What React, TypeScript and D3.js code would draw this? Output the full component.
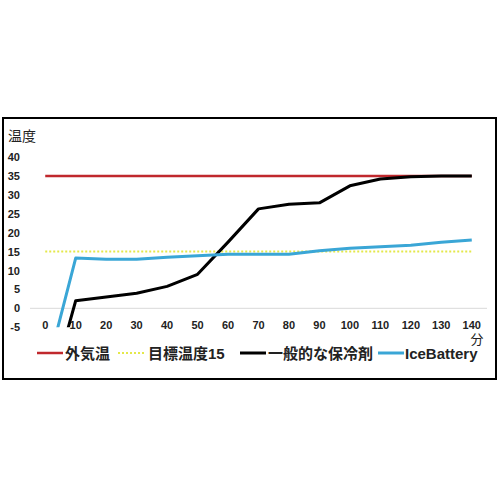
import React from 'react'
import * as d3 from 'd3'

// minutes (category axis)
const minutes = ['0', '10', '20', '30', '40', '50', '60', '70', '80', '90', '100', '110', '120', '130', '140']
const outside = [35, 35, 35, 35, 35, 35, 35, 35, 35, 35, 35, 35, 35, 35, 35]
const target = [15, 15, 15, 15, 15, 15, 15, 15, 15, 15, 15, 15, 15, 15, 15]
const normalPack = [-27, 2, 3, 4, 5.8, 9, 17.5, 26.3, 27.5, 27.9, 32.4, 34.2, 34.8, 35, 35]
const iceBattery = [-18, 13.3, 13, 13, 13.5, 13.9, 14.3, 14.3, 14.3, 15.2, 15.9, 16.3, 16.7, 17.5, 18.1]
const yTicks = [-5, 0, 5, 10, 15, 20, 25, 30, 35, 40]

const series = [
  { name: '外気温', values: outside, color: '#c0282d', width: 2.5, dash: '' },
  { name: '目標温度15', values: target, color: '#e4e84a', width: 2, dash: '2,2' },
  { name: '一般的な保冷剤', values: normalPack, color: '#000000', width: 3, dash: '' },
  { name: 'IceBattery', values: iceBattery, color: '#3aa6d6', width: 3, dash: '' },
]

const font = '"Liberation Sans", "Noto Sans CJK JP", sans-serif'

const App = () => {
  const width = 500
  const height = 500

  const x = d3.scalePoint<string>().domain(minutes).range([30, 487]).padding(0.5)
  const y = d3.scaleLinear().domain([-5, 40]).range([327.2, 157.1])

  const line = d3
    .line<number>()
    .x((d, i) => x(minutes[i]) ?? 0)
    .y((d) => y(d))

  // legend entries: line start, text start
  const legendPos = [
    { lx: 37, tx: 65 },
    { lx: 118, tx: 148 },
    { lx: 240, tx: 268 },
    { lx: 378, tx: 405 },
  ]

  return (
    <svg
      width={width}
      height={height}
      style={{ position: 'absolute', left: 0, top: 0, background: '#fff' }}
      fontFamily={font}
    >
      <defs>
        <clipPath id="plot">
          <rect x={30} y={y(40) - 5} width={457} height={y(-5) - y(40) + 5} />
        </clipPath>
      </defs>
      {/* frame */}
      <rect x={3} y={118} width={493} height={261} fill="none" stroke="#000" strokeWidth={2} />

      {/* axis title */}
      <text x={8} y={141} fontSize={14} fill="#222">温度</text>

      {/* y labels */}
      {yTicks.map((t) => (
        <text key={t} x={20} y={y(t) + 4} fontSize={11} fontWeight="bold" textAnchor="end" fill="#222">
          {t}
        </text>
      ))}

      {/* horizontal axis line at 0 */}
      <line x1={30} x2={487} y1={y(0)} y2={y(0)} stroke="#d9d9d9" strokeWidth={1} />

      {/* x labels */}
      {minutes.map((m) => (
        <text key={m} x={x(m)} y={329} fontSize={11} fontWeight="bold" textAnchor="middle" fill="#222">
          {m}
        </text>
      ))}
      <text x={477} y={344} fontSize={13} textAnchor="middle" fill="#222">分</text>

      {/* series */}
      <g clipPath="url(#plot)">
        {series.map((s) => (
          <path
            key={s.name}
            d={line(s.values) ?? ''}
            fill="none"
            stroke={s.color}
            strokeWidth={s.width}
            strokeDasharray={s.dash || undefined}
            strokeLinejoin="round"
          />
        ))}
      </g>

      {/* legend */}
      {series.map((s, i) => (
        <g key={s.name}>
          <line
            x1={legendPos[i].lx}
            x2={legendPos[i].lx + 26}
            y1={353}
            y2={353}
            stroke={s.color}
            strokeWidth={s.width}
            strokeDasharray={s.dash || undefined}
          />
          <text x={legendPos[i].tx} y={358.5} fontSize={15} fontWeight="bold" fill="#222">
            {s.name}
          </text>
        </g>
      ))}
    </svg>
  )
}

export default App
